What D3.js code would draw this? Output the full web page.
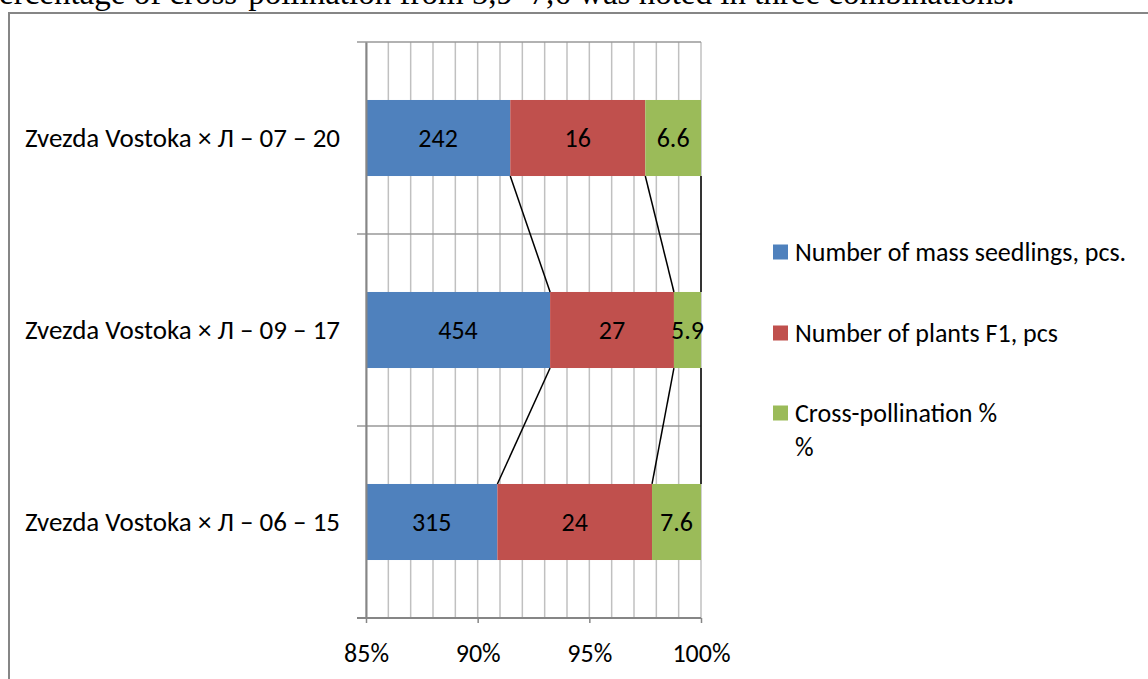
<!DOCTYPE html>
<html>
<head>
<meta charset="utf-8">
<script src="https://cdn.jsdelivr.net/npm/d3@7"></script>
<style>
  html, body { margin: 0; padding: 0; background: #fff; overflow: hidden; }
  svg { display: block; }
  .lbl { font-family: Carlito, Lato, "Open Sans", sans-serif; fill: #000; }
</style>
</head>
<body>
<svg id="chart" width="1148" height="679"></svg>
<script>
// Crosses, listed top to bottom
const categories = [
  "Zvezda Vostoka × Л – 07 – 20",
  "Zvezda Vostoka × Л – 09 – 17",
  "Zvezda Vostoka × Л – 06 – 15"
];
const seedlings = [242, 454, 315];     // Number of mass seedlings, pcs.
const plantsF1 = [16, 27, 24];         // Number of plants F1, pcs
const crossPoll = [6.6, 5.9, 7.6];     // Cross-pollination %
const seriesNames = ["Number of mass seedlings, pcs.", "Number of plants F1, pcs", "Cross-pollination %\n%"];
const seriesColors = ["#4F81BD", "#C0504D", "#9BBB59"];
const xTicks = [0.85, 0.90, 0.95, 1.00];
const caption = "ercentage of cross-pollination from 5,9–7,6 was noted in three combinations.";

const svg = d3.select("#chart");
const pLeft = 366, pRight = 701, pTop = 42, pBottom = 618;
const fs = 26;

// Caption line of the surrounding document, cut by the page edge
svg.append("text")
  .attr("x", -1).attr("y", 4)
  .attr("font-family", "'Liberation Serif', 'Times New Roman', serif")
  .attr("font-size", 33)
  .text(caption);

// Chart frame
svg.append("rect")
  .attr("x", 9).attr("y", 13).attr("width", 1160).attr("height", 700)
  .attr("fill", "none").attr("stroke", "#868686").attr("stroke-width", 2);

// Stack the three series as shares of each row's total
const rows = categories.map((c, i) => ({ cat: c, s0: seedlings[i], s1: plantsF1[i], s2: crossPoll[i] }));
const stack = d3.stack().keys(["s0", "s1", "s2"]).offset(d3.stackOffsetExpand);
const layers = stack(rows);

const x = d3.scaleLinear().domain([0.85, 1]).range([pLeft, pRight]);
const y = d3.scaleBand().domain(categories).range([pTop, pBottom])
  .paddingInner(0.604).paddingOuter(0.302);

// Vertical gridlines every 1%
const minor = d3.range(85, 101).map(v => v / 100);
svg.append("g").selectAll("line").data(minor).join("line")
  .attr("x1", d => x(d)).attr("x2", d => x(d))
  .attr("y1", pTop).attr("y2", pBottom)
  .attr("stroke", "#c0c0c0").attr("stroke-width", 1.5);

// Horizontal lines at category boundaries
const bounds = d3.range(categories.length).map(i => y.step() * i + pTop);
svg.append("g").selectAll("line").data(bounds).join("line")
  .attr("x1", pLeft - 9).attr("x2", pRight)
  .attr("y1", d => d).attr("y2", d => d)
  .attr("stroke", "#999").attr("stroke-width", 1.5);

// Bars, clipped to the plot area
svg.append("clipPath").attr("id", "plotClip")
  .append("rect").attr("x", pLeft).attr("y", pTop).attr("width", pRight - pLeft).attr("height", pBottom - pTop);

const barG = svg.append("g").attr("clip-path", "url(#plotClip)");
layers.forEach((layer, si) => {
  barG.append("g").selectAll("rect").data(layer).join("rect")
    .attr("x", d => x(d[0]))
    .attr("width", d => x(d[1]) - x(d[0]))
    .attr("y", d => y(d.data.cat))
    .attr("height", y.bandwidth())
    .attr("fill", seriesColors[si]);
});

// Series lines linking stack boundaries of neighbouring bars
const serLines = [];
layers.forEach(layer => {
  for (let i = 0; i < layer.length - 1; i++) {
    serLines.push({
      x1: x(layer[i][1]), y1: y(layer[i].data.cat) + y.bandwidth(),
      x2: x(layer[i + 1][1]), y2: y(layer[i + 1].data.cat)
    });
  }
});
svg.append("g").selectAll("line").data(serLines).join("line")
  .attr("x1", d => d.x1).attr("y1", d => d.y1)
  .attr("x2", d => d.x2).attr("y2", d => d.y2)
  .attr("stroke", "#000").attr("stroke-width", 1.5);

// Value labels centred in each segment
const values = [seedlings, plantsF1, crossPoll];
layers.forEach((layer, si) => {
  svg.append("g").selectAll("text").data(layer).join("text")
    .attr("class", "lbl")
    .attr("x", d => (Math.max(x(d[0]), pLeft) + x(d[1])) / 2)
    .attr("y", d => y(d.data.cat) + y.bandwidth() / 2)
    .attr("dy", "0.35em")
    .attr("text-anchor", "middle")
    .attr("font-size", fs)
    .text((d, i) => values[si][i]);
});

// Axes
const xAxis = d3.axisBottom(x).tickValues(xTicks).tickFormat(d3.format(".0%")).tickSize(5).tickSizeOuter(0);
const gx = svg.append("g").attr("transform", `translate(0,${pBottom})`).call(xAxis);
gx.select(".domain").attr("stroke", "#868686").attr("stroke-width", 2).attr("d", `M${pLeft - 9},0H${pRight}`);
gx.selectAll(".tick line").attr("stroke", "#868686").attr("stroke-width", 1.5);
gx.selectAll(".tick text").attr("class", "lbl").attr("font-size", fs).attr("dy", 0).attr("y", 44);

const yAxis = d3.axisLeft(y).tickSize(0).tickPadding(26);
const gy = svg.append("g").attr("transform", `translate(${pLeft},0)`).call(yAxis);
gy.select(".domain").attr("stroke", "#868686").attr("stroke-width", 2);
gy.selectAll(".tick text").attr("class", "lbl").attr("font-size", 27);

// Legend
const legY = [252, 333, 413];
const leg = svg.append("g");
seriesNames.forEach((name, i) => {
  leg.append("rect").attr("x", 773).attr("y", legY[i] - 7.5).attr("width", 15).attr("height", 15)
    .attr("fill", seriesColors[i]);
  const t = leg.append("text").attr("class", "lbl").attr("font-size", fs)
    .attr("x", 795).attr("y", legY[i]);
  name.split("\n").forEach((ln, j) => {
    t.append("tspan").attr("x", 795).attr("dy", j === 0 ? "0.35em" : 34).text(ln);
  });
});
</script>
</body>
</html>
